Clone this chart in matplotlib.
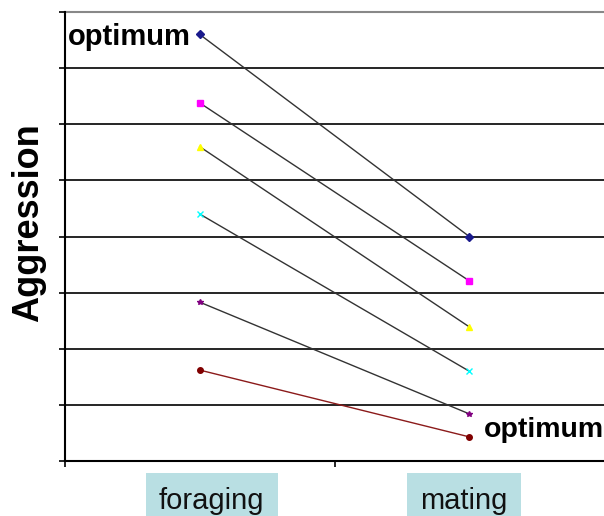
import numpy as np
import matplotlib.pyplot as plt
import matplotlib.transforms as mtransforms

plt.rcParams["font.family"] = ["Liberation Sans", "DejaVu Sans"]

categories = ["foraging", "mating"]
foraging = [7.6, 6.38, 5.6, 4.4, 2.83, 1.62]
mating = [4.0, 3.21, 2.39, 1.6, 0.84, 0.43]
marker_colors = ["#1a1a8c", "#ff00ff", "#ffff00", "#00ffff", "#800080", "#800000"]
line_colors = ["#333333", "#333333", "#333333", "#333333", "#333333", "#8b1a1a"]
markers = ["D", "s", "^", "x", "*", "o"]

fig = plt.figure(figsize=(6.04, 5.16), dpi=100)
ax = fig.add_axes([65 / 604, 1 - 461 / 516, 1 - 65 / 604, (461 - 12) / 516])

x = np.arange(len(categories))
for i in range(len(foraging)):
    ax.plot(x, [foraging[i], mating[i]], color=line_colors[i], lw=1.0,
            marker=markers[i], markersize=4, markerfacecolor=marker_colors[i],
            markeredgecolor=marker_colors[i], zorder=3)

ax.set_xlim(-0.5, 1.5)
ax.set_ylim(0, 8)

# gridlines
for yv in range(1, 8):
    ax.axhline(yv, color="black", lw=1.2, zorder=1)
ax.axhline(8, color="#888888", lw=1.5, zorder=1, clip_on=False)

ax.set_yticks(range(0, 9))
ax.set_yticklabels([])
ax.tick_params(axis="y", length=4, width=1.2, color="black")

ax.set_xticks([-0.5, 0.5])
ax.set_xticklabels([])
ax.tick_params(axis="x", length=4, width=1.2)

# category labels in shaded boxes (slightly nudged like the original slide)
nudge_px = [12, -5]
base = mtransforms.blended_transform_factory(ax.transData, ax.transAxes)
for i, cat in enumerate(categories):
    tr = base + mtransforms.ScaledTranslation(nudge_px[i] / 100, 0, fig.dpi_scale_trans)
    ax.text(x[i], -0.088, cat, transform=tr, fontsize=21, color="#111111",
            ha="center", va="center", clip_on=False,
            bbox=dict(facecolor="#b9dfe3", edgecolor="none",
                      boxstyle="square,pad=0.45"))

for side in ["top", "right"]:
    ax.spines[side].set_visible(False)
ax.spines["left"].set_linewidth(1.5)
ax.spines["bottom"].set_linewidth(1.5)

ax.set_ylabel("Aggression", fontsize=26, fontweight="bold")
ax.yaxis.set_label_coords(-0.036, 0.53)

ax.text(-0.035, foraging[0] - 0.05, "optimum", fontsize=21, fontweight="bold",
        ha="right", va="center")
ax.text(1.053, mating[-1] + 0.13, "optimum", fontsize=20.5, fontweight="bold",
        ha="left", va="center", clip_on=False)

fig.savefig("out.png", dpi=100)
